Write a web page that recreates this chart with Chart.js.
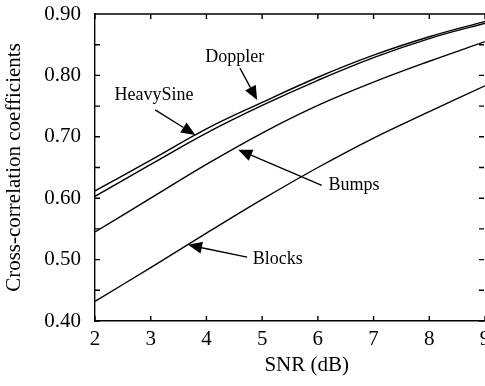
<!DOCTYPE html>
<html>
<head>
<meta charset="utf-8">
<script src="https://cdn.jsdelivr.net/npm/chart.js@4"></script>
<style>
  html, body { margin: 0; padding: 0; background: #fff; }
  #wrap { width: 485px; height: 386px; }
</style>
</head>
<body>
<div id="wrap"><canvas id="chart"></canvas></div>
<script>
// SNR values (dB)
const snr = [2, 3, 4, 5, 6, 7, 8, 9];

// cross-correlation per signal
const doppler   = [0.612, 0.662, 0.713, 0.756, 0.797, 0.833, 0.863, 0.888];
const heavySine = [0.603, 0.655, 0.706, 0.751, 0.792, 0.829, 0.860, 0.885];
const bumps     = [0.545, 0.600, 0.655, 0.706, 0.751, 0.789, 0.823, 0.855];
const blocks    = [0.432, 0.487, 0.543, 0.598, 0.650, 0.698, 0.741, 0.783];

// label text, label centre, arrow tail and arrow head (data units)
const labels = [
    { text: 'Doppler',   at: [4.51, 0.830], from: [4.60, 0.812], to: [4.91, 0.760] },
    { text: 'HeavySine', at: [3.06, 0.768], from: [3.08, 0.744], to: [3.80, 0.703] },
    { text: 'Bumps',     at: [6.65, 0.621], from: [6.07, 0.621], to: [4.57, 0.679] },
    { text: 'Blocks',    at: [5.28, 0.501], from: [4.73, 0.504], to: [3.67, 0.524] }
];

const serif = '"Liberation Serif", "Times New Roman", serif';

function toPoints(ys) {
    return snr.map((x, i) => ({ x: x, y: ys[i] }));
}

function lineSet(name, ys) {
    return {
        label: name,
        data: toPoints(ys),
        borderColor: '#000',
        borderWidth: 1.4,
        pointRadius: 0,
        fill: false,
        tension: 0.4
    };
}

// inward tick marks on all four sides, plus the top frame line
const frameTicks = {
    id: 'frameTicks',
    afterDraw(chart) {
        const ctx = chart.ctx;
        const a = chart.chartArea;
        const xs = chart.scales.x, ys = chart.scales.y;
        const len = 5;
        ctx.save();
        ctx.strokeStyle = '#000';
        ctx.lineWidth = 1.4;
        ctx.beginPath();
        ctx.moveTo(a.left, a.top);
        ctx.lineTo(a.right + 2, a.top);
        xs.ticks.forEach(t => {
            const px = xs.getPixelForValue(t.value);
            ctx.moveTo(px, a.bottom);
            ctx.lineTo(px, a.bottom - len);
            ctx.moveTo(px, a.top);
            ctx.lineTo(px, a.top + len);
        });
        ys.ticks.forEach(t => {
            const py = ys.getPixelForValue(t.value);
            ctx.moveTo(a.left, py);
            ctx.lineTo(a.left + len, py);
            ctx.moveTo(a.right - 1, py);
            ctx.lineTo(a.right - 1 - len, py);
        });
        ctx.stroke();
        ctx.restore();
    }
};

// text labels with filled-head arrows
const arrowLabels = {
    id: 'arrowLabels',
    afterDatasetsDraw(chart) {
        const ctx = chart.ctx;
        const xs = chart.scales.x, ys = chart.scales.y;
        ctx.save();
        ctx.fillStyle = '#000';
        ctx.strokeStyle = '#000';
        ctx.lineWidth = 1.4;
        ctx.font = '18px ' + serif;
        ctx.textAlign = 'center';
        ctx.textBaseline = 'middle';
        labels.forEach(l => {
            ctx.fillText(l.text, xs.getPixelForValue(l.at[0]), ys.getPixelForValue(l.at[1]));
            const x0 = xs.getPixelForValue(l.from[0]), y0 = ys.getPixelForValue(l.from[1]);
            const x1 = xs.getPixelForValue(l.to[0]), y1 = ys.getPixelForValue(l.to[1]);
            const ang = Math.atan2(y1 - y0, x1 - x0);
            const head = 14, half = 6;
            const bx = x1 - head * Math.cos(ang), by = y1 - head * Math.sin(ang);
            ctx.beginPath();
            ctx.moveTo(x0, y0);
            ctx.lineTo(bx, by);
            ctx.stroke();
            ctx.beginPath();
            ctx.moveTo(x1, y1);
            ctx.lineTo(bx + half * Math.sin(ang), by - half * Math.cos(ang));
            ctx.lineTo(bx - half * Math.sin(ang), by + half * Math.cos(ang));
            ctx.closePath();
            ctx.fill();
        });
        ctx.restore();
    }
};

// x title drawn a little left of centre, as in the figure
const xTitle = {
    id: 'xTitle',
    afterDraw(chart) {
        const ctx = chart.ctx;
        ctx.save();
        ctx.fillStyle = '#000';
        ctx.font = '21px ' + serif;
        ctx.textAlign = 'center';
        ctx.textBaseline = 'middle';
        ctx.fillText('SNR (dB)', chart.scales.x.getPixelForValue(5.8), 365);
        ctx.restore();
    }
};

new Chart(document.getElementById('chart'), {
    type: 'line',
    data: {
        datasets: [
            lineSet('Doppler', doppler),
            lineSet('HeavySine', heavySine),
            lineSet('Bumps', bumps),
            lineSet('Blocks', blocks)
        ]
    },
    options: {
        responsive: true,
        maintainAspectRatio: false,
        animation: false,
        layout: { padding: { top: 14, right: 0, left: 0, bottom: 0 } },
        plugins: {
            legend: { display: false },
            tooltip: { enabled: false }
        },
        scales: {
            x: {
                type: 'linear',
                min: 2,
                max: 9,
                grid: { drawOnChartArea: false, drawTicks: false },
                border: { color: '#000', width: 1.4 },
                ticks: {
                    stepSize: 1,
                    padding: 6,
                    color: '#000',
                    font: { family: serif, size: 21 }
                },
                afterFit(scale) {
                    scale.height = 65;
                    scale.paddingLeft = 0;
                    scale.paddingRight = 0;
                }
            },
            y: {
                min: 0.4,
                max: 0.9,
                grid: { drawOnChartArea: false, drawTicks: false },
                border: { color: '#000', width: 1.4 },
                ticks: {
                    stepSize: 0.05,
                    autoSkip: false,
                    padding: 14,
                    color: '#000',
                    font: { family: serif, size: 21 },
                    callback: v => (Math.round(v * 100) % 10 === 0 ? v.toFixed(2) : '')
                },
                title: {
                    display: true,
                    text: 'Cross-correlation coefficients',
                    color: '#000',
                    font: { family: serif, size: 21 },
                    padding: { top: 2, bottom: 0 }
                },
                afterFit(scale) {
                    scale.width = 95;
                    scale.paddingTop = 0;
                    scale.paddingBottom = 0;
                }
            }
        }
    },
    plugins: [frameTicks, arrowLabels, xTitle]
});
</script>
</body>
</html>
